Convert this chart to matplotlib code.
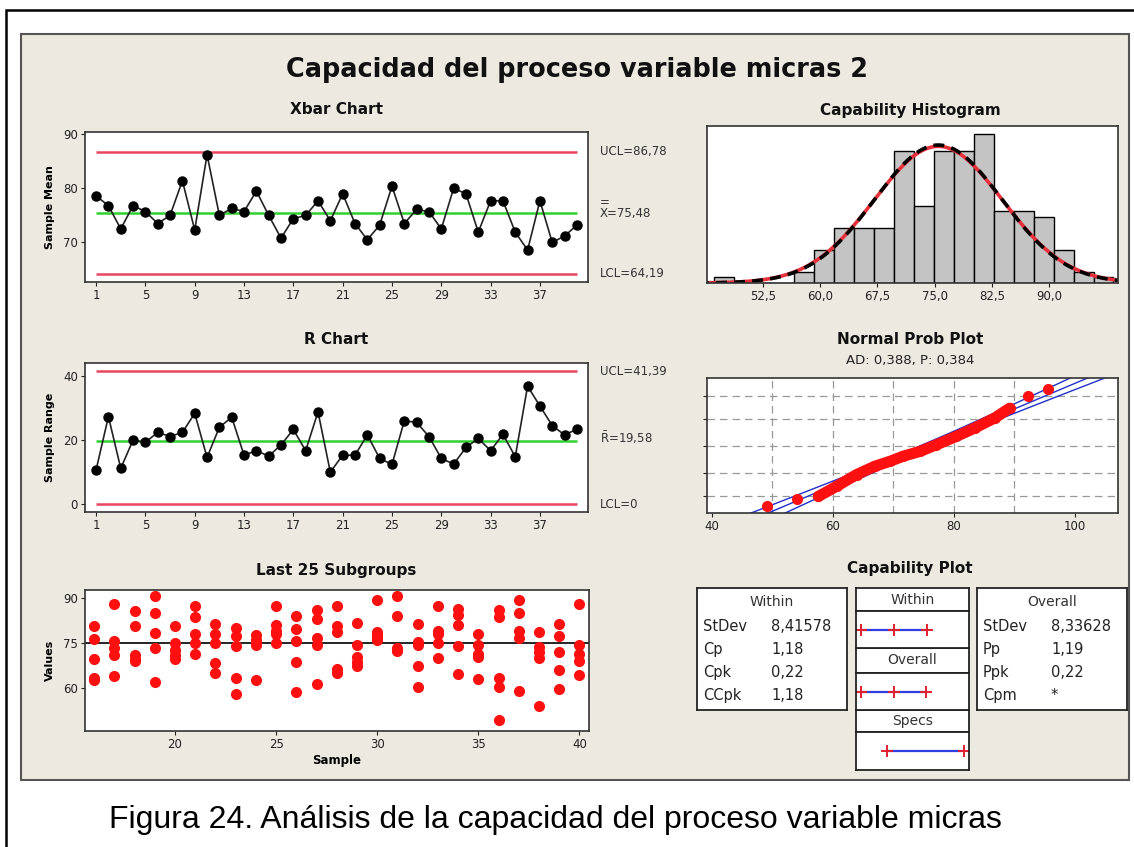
"""
Capability sixpack (Minitab style) for variable micras 2
"""

import numpy as np
import matplotlib.pyplot as plt
from matplotlib.patches import Rectangle
from statistics import NormalDist

# ---- data ----
samples = np.arange(1, 41)
xbar = [78.6, 76.8, 72.5, 76.8, 75.7, 73.5, 75.0, 81.4, 72.3, 86.2,
        75.0, 76.3, 75.7, 79.5, 75.0, 70.8, 74.4, 75.0, 77.7, 74.0,
        79.0, 73.5, 70.5, 73.2, 80.4, 73.5, 76.1, 75.7, 72.5, 80.0,
        79.0, 71.9, 77.7, 77.7, 71.9, 68.6, 77.7, 70.0, 71.2, 73.2]
ranges = [10.6, 27.2, 11.1, 19.9, 19.2, 22.3, 21.0, 22.3, 28.2, 14.5,
          23.9, 27.0, 15.2, 16.6, 14.9, 18.4, 23.2, 16.6, 28.7, 9.9,
          15.2, 15.2, 21.5, 14.2, 12.3, 25.9, 25.4, 21.0, 14.2, 12.4,
          17.6, 20.4, 16.6, 21.7, 14.7, 36.7, 30.5, 24.4, 21.5, 23.3]
xbar_ucl, xbar_cl, xbar_lcl = 86.78, 75.48, 64.19
r_ucl, r_cl, r_lcl = 41.39, 19.58, 0.0

# last 25 subgroups (samples 16..40), five values each
last_samples = np.arange(16, 41)
last_values = [
    [80.5, 76.2, 69.8, 63.4, 62.6], [87.8, 75.6, 73.5, 71.0, 64.0],
    [85.7, 80.8, 70.9, 69.8, 68.9], [90.7, 85.1, 78.3, 73.5, 61.9],
    [80.5, 75.0, 72.7, 70.9, 69.8], [87.4, 83.7, 78.1, 75.0, 71.5],
    [81.2, 77.9, 75.0, 68.3, 65.1], [80.0, 77.3, 74.1, 63.4, 58.1],
    [77.6, 76.0, 75.0, 74.5, 62.8], [87.4, 81.0, 79.1, 78.0, 75.0],
    [84.1, 79.7, 75.6, 68.8, 58.7], [86.0, 83.1, 76.7, 74.4, 61.3],
    [87.4, 80.8, 78.5, 66.3, 65.1], [81.7, 74.4, 70.3, 68.6, 67.4],
    [89.2, 78.5, 77.5, 76.7, 76.0], [90.7, 84.1, 73.5, 72.8, 72.2],
    [81.2, 75.5, 74.5, 67.4, 60.5], [87.4, 79.1, 78.0, 75.0, 70.1],
    [86.3, 84.3, 81.0, 74.1, 64.8], [77.9, 74.4, 71.5, 70.3, 63.1],
    [86.0, 83.7, 63.4, 60.5, 49.4], [89.2, 84.9, 79.1, 76.7, 59.0],
    [78.5, 73.6, 72.0, 70.0, 54.1], [81.2, 77.3, 72.1, 65.9, 59.9],
    [87.8, 74.4, 71.5, 69.2, 64.5]]

# capability histogram (bin edges and counts)
bin_start, bin_width = 46.1, 2.617
hist_counts = [1, 0, 0, 0, 2, 6, 10, 10, 10, 24, 14, 24, 24, 27, 13, 13, 12, 6, 2, 1]
n_total = 200
hist_ticks = [52.5, 60.0, 67.5, 75.0, 82.5, 90.0]

# normal probability plot: value vs cumulative percent
prob_vals = [49.1, 54.1, 57.6, 60.6, 63.9, 66.9, 69.4, 71.6, 74.4, 77.1,
             80.4, 83.4, 86.7, 89.2, 92.2, 95.5]
prob_pct = [0.26, 0.66, 0.91, 2.94, 9.0, 17.1, 23.6, 31.6, 40.1, 52.4,
            67.4, 80.0, 90.5, 96.2, 99.0, 99.64]
prob_grid = [1, 10, 50, 90, 99]

# capability statistics
sd_within, sd_overall = 8.41578, 8.33628
lsl, usl = 70.0, 129.6
within_rows = [("StDev", "8,41578"), ("Cp", "1,18"), ("Cpk", "0,22"), ("CCpk", "1,18")]
overall_rows = [("StDev", "8,33628"), ("Pp", "1,19"), ("Ppk", "0,22"), ("Cpm", "*")]

# ---- layout helpers (pixel coordinates of the 1134x847 picture) ----
W, H = 1134, 847
BEIGE = '#ECE9E0'
RED_LIM = '#E8475F'
GREEN = '#2ED12E'

plt.rcParams['font.family'] = ['DejaVu Sans']

fig = plt.figure(figsize=(W / 100, H / 100), dpi=100)
fig.patch.set_facecolor('white')


def rect(l, t, r, b):
    return [l / W, 1 - b / H, (r - l) / W, (b - t) / H]


def ftext(x, y, s, **kw):
    kw.setdefault('ha', 'center')
    kw.setdefault('va', 'center')
    kw.setdefault('color', '#111111')
    fig.text(x / W, 1 - y / H, s, **kw)


def style_axes(ax):
    ax.set_facecolor('white')
    for sp in ax.spines.values():
        sp.set_color('#333333')
        sp.set_linewidth(1.2)
    ax.tick_params(labelsize=8.5, length=3, width=0.8, colors='#222222', pad=2)


# document frame and beige panel (behind the axes)
fig.add_artist(Rectangle((6 / W, -0.05), 1.2, 1 - 10 / H + 0.05, fill=False,
                         lw=1.8, ec='black', transform=fig.transFigure, zorder=-10))
fig.add_artist(Rectangle((21 / W, 1 - 780 / H), (1129 - 21) / W, (780 - 34) / H,
                         fc=BEIGE, ec='#555555', lw=1.5, transform=fig.transFigure,
                         zorder=-9))

ftext(577, 70, "Capacidad del proceso variable micras 2", fontsize=18.4, fontweight='bold')
ftext(555, 820, "Figura 24. Análisis de la capacidad del proceso variable micras",
      fontsize=23, family=['Liberation Sans', 'DejaVu Sans'], color='black')

# ---- Xbar chart ----
ax1 = fig.add_axes(rect(85, 132, 588, 282))
style_axes(ax1)
ax1.hlines([xbar_ucl, xbar_lcl], 1, 40, colors=RED_LIM, lw=1.8)
ax1.hlines(xbar_cl, 1, 40, colors=GREEN, lw=1.8)
ax1.plot(samples, xbar, color='#222222', lw=1.2, marker='o', ms=6.5, mfc='black', mec='black')
ax1.set_xlim(0.1, 40.9)
ax1.set_ylim(62.7, 90.4)
ax1.set_xticks(np.arange(1, 40, 4))
ax1.set_yticks([70, 80, 90])
ax1.set_ylabel("Sample Mean", fontsize=8, fontweight='bold', labelpad=6)
ftext(336, 110, "Xbar Chart", fontsize=11, fontweight='bold')
ftext(600, 152, "UCL=86,78", fontsize=8.5, ha='left', color='#333333')
ftext(600, 203, "=", fontsize=8.5, ha='left', color='#333333')
ftext(600, 214, "X=75,48", fontsize=8.5, ha='left', color='#333333')
ftext(600, 274, "LCL=64,19", fontsize=8.5, ha='left', color='#333333')

# ---- R chart ----
ax2 = fig.add_axes(rect(85, 363, 588, 512))
style_axes(ax2)
ax2.hlines([r_ucl, r_lcl], 1, 40, colors=RED_LIM, lw=1.8)
ax2.hlines(r_cl, 1, 40, colors=GREEN, lw=1.8)
ax2.plot(samples, ranges, color='#222222', lw=1.2, marker='o', ms=6.5, mfc='black', mec='black')
ax2.set_xlim(0.1, 40.9)
ax2.set_ylim(-2.5, 43.9)
ax2.set_xticks(np.arange(1, 40, 4))
ax2.set_yticks([0, 20, 40])
ax2.set_ylabel("Sample Range", fontsize=8, fontweight='bold', labelpad=6)
ftext(336, 340, "R Chart", fontsize=11, fontweight='bold')
ftext(600, 371, "UCL=41,39", fontsize=8.5, ha='left', color='#333333')
ftext(600, 438, r"$\mathrm{\bar{R}}$=19,58", fontsize=8.5, ha='left', color='#333333')
ftext(600, 504, "LCL=0", fontsize=8.5, ha='left', color='#333333')

# ---- Last 25 subgroups ----
ax3 = fig.add_axes(rect(85, 590, 589, 731))
style_axes(ax3)
ax3.axhline(75, color='black', lw=1.2)
for s, vals in zip(last_samples, last_values):
    ax3.plot([s] * len(vals), vals, 'o', color='#FF1010', ms=7, mec='#FF1010')
ax3.set_xlim(15.55, 40.47)
ax3.set_ylim(45.8, 92.6)
ax3.set_xticks([20, 25, 30, 35, 40])
ax3.set_yticks([60, 75, 90])
ax3.set_ylabel("Values", fontsize=8, fontweight='bold', labelpad=6)
ax3.set_xlabel("Sample", fontsize=8.5, fontweight='bold', labelpad=2)
ftext(336, 570, "Last 25 Subgroups", fontsize=11, fontweight='bold')

# ---- Capability histogram ----
ax4 = fig.add_axes(rect(707, 126, 1118, 283))
style_axes(ax4)
edges = bin_start + bin_width * np.arange(len(hist_counts) + 1)
ax4.bar(edges[:-1], hist_counts, width=bin_width, align='edge',
        color='#C4C4C4', edgecolor='black', lw=1.0)
xs = np.linspace(44, 100, 300)
for sd, col, ls, lw in [(sd_within, '#E8303A', '-', 2.6), (sd_overall, 'black', (0, (3, 2)), 2.6)]:
    pdf = np.exp(-0.5 * ((xs - xbar_cl) / sd) ** 2) / (sd * np.sqrt(2 * np.pi))
    ax4.plot(xs, pdf * n_total * bin_width, color=col, ls=ls, lw=lw)
ax4.set_xlim(45.17, 99.03)
ax4.set_ylim(0, 28.5)
ax4.set_xticks(hist_ticks)
ax4.set_xticklabels([f"{t:.1f}".replace('.', ',') for t in hist_ticks])
ax4.set_yticks([])
ftext(910, 110, "Capability Histogram", fontsize=11, fontweight='bold')

# ---- Normal probability plot ----
ax5 = fig.add_axes(rect(707, 378, 1118, 513))
style_axes(ax5)
nd = NormalDist()
for p in prob_grid:
    ax5.axhline(nd.inv_cdf(p / 100), color='#999999', lw=0.9, ls=(0, (6, 4)))
for v in [50, 60, 70, 80, 90]:
    ax5.axvline(v, color='#999999', lw=0.9, ls=(0, (6, 4)))
zz = np.linspace(-3.4, 3.4, 100)
half = 1.96 * sd_overall * np.sqrt(1 / n_total + zz ** 2 / (2 * (n_total - 1)))
for off in (-1, 0, 1):
    ax5.plot(xbar_cl + sd_overall * zz + off * half, zz, color='#2030C8', lw=1.0)
pz = [nd.inv_cdf(p / 100) for p in prob_pct]
ax5.plot(prob_vals[2:-2], pz[2:-2], color='#FF1010', lw=8, solid_capstyle='round')
ax5.plot(prob_vals, pz, 'o', color='#FF1010', ms=7)
ax5.set_xlim(39.2, 107.1)
ax5.set_ylim(-3.14, 3.19)
ax5.set_xticks([40, 60, 80, 100])
ax5.set_yticks([nd.inv_cdf(p / 100) for p in prob_grid])
ax5.set_yticklabels([])
ftext(910, 340, "Normal Prob Plot", fontsize=11, fontweight='bold')
ftext(910, 360, "AD: 0,388, P: 0,384", fontsize=9.5, color='#222222')

# ---- Capability plot ----
ftext(910, 569, "Capability Plot", fontsize=11, fontweight='bold')


def box_axes(l, t, r, b):
    ax = fig.add_axes(rect(l, t, r, b))
    ax.set_facecolor('white')
    ax.set_xticks([])
    ax.set_yticks([])
    for sp in ax.spines.values():
        sp.set_color('#222222')
        sp.set_linewidth(1.3)
    return ax


def stat_box(l, r, title, rows):
    box_axes(l, 588, r, 710)
    ftext((l + r) / 2, 602, title, fontsize=10, color='#333333')
    for i, (lab, val) in enumerate(rows):
        ftext(l + 6, 626 + 23 * i, lab, fontsize=10.5, ha='left', color='#222222')
        ftext(l + 74, 626 + 23 * i, val, fontsize=10.5, ha='left', color='#222222')


stat_box(697, 847, "Within", within_rows)
stat_box(977, 1127, "Overall", overall_rows)

mid_l, mid_r = 856, 969
headers = [("Within", 588, 611), ("Overall", 648, 673), ("Specs", 710, 732)]
bands = [(611, 648), (673, 710), (732, 770)]
intervals = [
    [xbar_cl - 3 * sd_within, xbar_cl, xbar_cl + 3 * sd_within],
    [xbar_cl - 3 * sd_overall, xbar_cl, xbar_cl + 3 * sd_overall],
    [lsl, usl],
]
for (name, t, b) in headers:
    box_axes(mid_l, t, mid_r, b)
    ftext((mid_l + mid_r) / 2, (t + b) / 2, name, fontsize=10, color='#333333')
for (t, b), pts in zip(bands, intervals):
    ax = box_axes(mid_l, t, mid_r, b)
    ax.set_xlim(46.4, 133.4)
    ax.set_ylim(-1, 1)
    ax.plot([pts[0], pts[-1]], [0, 0], color='#3040E0', lw=1.6)
    ax.plot(pts, [0] * len(pts), '+', color='#E02030', ms=8, mew=1.4)

plt.savefig('out.png', dpi=100)
